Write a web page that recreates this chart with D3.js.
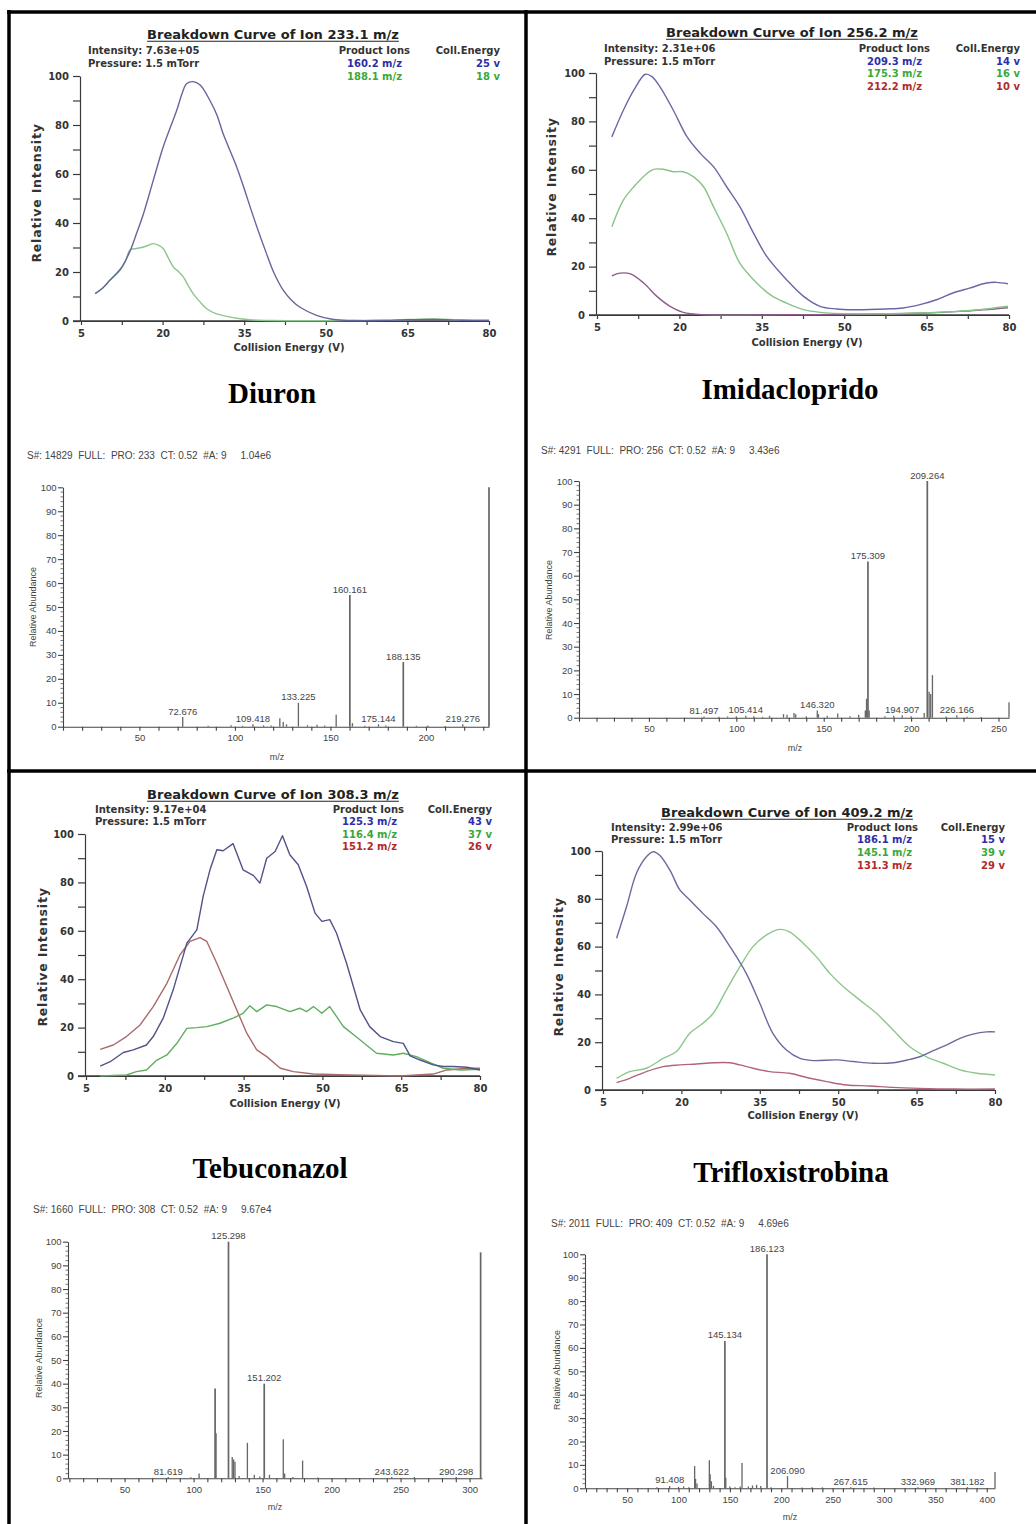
<!DOCTYPE html>
<html><head><meta charset="utf-8">
<script src="https://cdn.jsdelivr.net/npm/d3@7"></script>
<style>body{margin:0;background:#fff}svg{display:block}</style>
</head><body><svg id="c" width="1036" height="1524"></svg>
<script>
// ---------------- DATA ----------------
const compounds = ["Diuron", "Imidacloprido", "Tebuconazol", "Trifloxistrobina"];
const precursorIons = ["233.1", "256.2", "308.3", "409.2"];
const intensities = ["7.63e+05", "2.31e+06", "9.17e+04", "2.99e+06"];
const pressureText = "1.5 mTorr";
const productIons = [["160.2", "188.1"], ["209.3", "175.3", "212.2"], ["125.3", "116.4", "151.2"], ["186.1", "145.1", "131.3"]];
const collEnergies = [[25, 18], [14, 16, 10], [43, 37, 26], [15, 39, 29]];
const energyTickLabels = [5, 20, 35, 50, 65, 80];
const intensityTickLabels = [0, 20, 40, 60, 80, 100];

// breakdown curves [collision energy V, relative intensity %]
const diuron_160 = [[7.6,11.2],[9,13.5],[10.3,16.6],[12.5,22],[14,28.5],[15.2,35.7],[16.5,43.9],[18.3,57.5],[20.1,71],[21.5,79.5],[22.6,86],[23.6,93],[24.4,96.8],[25.6,97.7],[26.9,96.3],[28.7,90],[30,84],[31.1,76.6],[33.6,63],[35,54],[36.7,42.5],[39.1,27.5],[40.5,19.5],[42.2,12.5],[43.7,8.5],[45.2,5.7],[48.3,2.3],[51.4,0.6],[55,0.2],[60,0.2],[65,0.5],[70,0.6],[75,0.3],[80,0.2]];
const diuron_188 = [[7.6,11.2],[9,13.5],[10.3,16.6],[12.2,20.7],[13.2,24.5],[14,29],[15.2,29.6],[16.5,30.2],[17.5,31],[18.3,31.6],[19.2,31],[20.1,29.6],[21,26],[22,22],[23,20],[23.8,18],[24.7,14.5],[25.6,11.2],[26.8,8],[28.1,5],[29.8,3],[31.8,1.9],[34,1],[36,0.5],[40,0.2],[50,0.1],[60,0.3],[65,0.6],[70,0.8],[75,0.4],[80,0.3]];

const imida_209 = [[7.7,73.6],[9.8,84.6],[11.7,92.9],[13.8,99.5],[15,98.5],[16.5,94.2],[18.9,84.6],[21.4,73.6],[23.8,66.8],[26.2,61.3],[28.6,53],[31,44.8],[33.5,33.8],[35.9,24.2],[39.5,14.6],[42.6,7.7],[45.6,3.6],[48.6,2.5],[51.6,2.2],[57.7,2.5],[60.7,2.9],[63.8,4.3],[66.8,6.3],[69.8,9.1],[72.8,11.1],[75.9,13.2],[77.7,13.5],[79.8,12.9]];
const imida_175 = [[7.7,36.5],[9.8,47.5],[11.7,53],[14.1,58.5],[15.3,60.2],[17.1,60.2],[18.9,59.2],[20.7,59.2],[22.6,57.1],[24.4,53],[26.2,44.8],[28.6,33.8],[31,21.4],[33.5,14.6],[36.5,8.4],[39.5,4.9],[42.6,2.2],[45.6,1.1],[51.6,0.5],[63.8,0.8],[69.8,1.4],[75.9,2.5],[79.8,3.6]];
const imida_212 = [[7.7,16.2],[9.2,17.3],[11.1,17],[13.5,13.2],[15.9,7.7],[18.3,3.6],[20.7,1.1],[24.4,0.1],[40,0.1],[55,0.3],[65,0.8],[72,1.6],[79.8,3]];

const tebu_125 = [[7.7,4.1],[9.6,5.9],[12.1,9.7],[14,10.8],[16.5,12.8],[17.8,16.3],[19.7,23.9],[21.6,35.6],[24.2,54.9],[26.1,60.4],[27.3,74.2],[28.6,85.2],[29.9,93.5],[31.1,93.1],[33,96],[34.9,85.2],[36.9,82.8],[38.1,79.7],[39.4,90],[41,92.8],[42.4,99.3],[43.8,91.4],[45.4,87.3],[47,78.3],[48.6,67.3],[49.9,63.9],[51.4,64.6],[52.7,59],[54.6,46.6],[57.2,27.3],[59,20.4],[61,16.3],[63.5,14.2],[65.4,13.5],[66.7,8.3],[68.6,6.6],[71.1,4.6],[73,3.9],[74.9,3.9],[77.5,3.6],[80,2.5]];
const tebu_116 = [[7.7,0],[12.7,0.4],[14.6,1.8],[16.5,2.5],[18.5,6.6],[20.4,8.7],[22.3,13.5],[24.2,19.7],[26.1,20],[28,20.4],[30.5,21.8],[33,23.9],[34.9,25.9],[36.2,29],[37.5,26.6],[39.4,29.4],[41.3,28.7],[43.8,26.6],[45.7,28],[47,26.6],[48.3,28.7],[49.9,25.9],[51.4,28.7],[54,20.4],[57.2,14.9],[60.3,9.4],[63.5,8.7],[65.4,9.4],[67.9,8],[70.5,5.5],[73,3.2],[76.2,2.5],[80,2.8]];
const tebu_151 = [[7.7,11],[10.2,12.8],[12.7,16.3],[15.3,21.1],[17.8,28.7],[20.4,38.3],[22.9,50.1],[24.8,55.6],[26.7,57.2],[28,55.6],[29.9,46.6],[31.8,37],[33.7,27.3],[35.6,17.7],[37.5,10.8],[39.4,8],[42,3.2],[44.5,1.8],[48.3,0.8],[55.3,0.4],[64.8,0],[71.1,0.8],[73.7,2.5],[77.5,3.2],[80,3.2]];

const triflo_186 = [[7.6,63.5],[9.5,76.7],[11.4,90.7],[13.3,97.6],[14.6,99.7],[15.8,98.3],[17.8,92],[19.7,83.7],[21.6,79.5],[24.1,73.9],[26.7,68.3],[29.3,60],[32.4,48.8],[35,36.3],[37.5,23.7],[40.1,16.7],[42.7,13.2],[45.2,12.3],[49.7,12.6],[52.9,11.9],[56.7,11.2],[60.5,11.4],[63.7,12.8],[65.6,13.9],[68.2,16.5],[70.7,18.8],[73.3,21.6],[75.8,23.4],[78.4,24.3],[80,24.3]];
const triflo_145 = [[7.6,4.9],[10.1,7.7],[13.3,9.1],[16.5,13.2],[19,16],[21.6,23.7],[24.1,27.9],[26.1,32.1],[28.6,41.8],[31.2,51.6],[33.7,60],[36.3,64.9],[38.8,67.2],[40.7,66.2],[43.3,61.4],[45.8,55.8],[48.4,48.8],[51,43.2],[54.1,37.7],[57.3,32.1],[60.5,25.1],[63.7,18.1],[66.9,13.9],[70.1,11.2],[73.3,8.4],[76.5,7],[80,6.3]];
const triflo_131 = [[7.6,3.1],[10.1,4.9],[13.3,7.7],[16.5,9.8],[19.7,10.5],[22.9,10.9],[26.1,11.4],[29.3,11.4],[31.2,10.5],[33.7,9.1],[36.9,7.7],[40.7,7],[44.6,4.9],[47.8,3.5],[51.6,2.1],[56,1.7],[60.5,1.1],[65.6,0.7],[72,0.4],[80,0.4]];

// MS/MS spectra: [m/z, relative abundance %]
const scanHeaders = [
  "S#: 14829  FULL:  PRO: 233  CT: 0.52  #A: 9     1.04e6",
  "S#: 4291  FULL:  PRO: 256  CT: 0.52  #A: 9     3.43e6",
  "S#: 1660  FULL:  PRO: 308  CT: 0.52  #A: 9     9.67e4",
  "S#: 2011  FULL:  PRO: 409  CT: 0.52  #A: 9     4.69e6"
];
const diuronPeaks = [[72.676,4],[86,0.4],[98,0.6],[104,0.4],[109.418,1],[115,0.6],[119,0.5],[123.5,3.5],[125.3,2],[127,1],[133.225,10],[138,0.6],[143,0.8],[147,0.5],[153.0,5],[160.161,55],[161.5,1.5],[168,0.4],[175.144,1],[179,0.5],[188.135,27],[195,0.4],[201,0.5],[210,0.3],[219.276,1],[233,100]];
const diuronLabeled = [72.676,109.418,133.225,160.161,175.144,188.135,219.276];
const imidaPeaks = [[81.497,0.5],[90,0.4],[95,0.5],[100,0.6],[105.414,0.8],[110,0.6],[115,0.4],[119,0.8],[127,1.5],[129,1.2],[133,2],[134,1.5],[140,0.6],[146.320,3],[147,1.5],[152,0.8],[158,1.8],[165,0.6],[170,1.2],[173.8,3],[174.5,8],[175.309,66],[176,3],[185,0.6],[190,0.8],[194.907,1],[200,0.6],[207.5,2],[209.264,100],[210.3,11],[211.2,10],[212.2,18],[220,0.5],[226.166,1],[232,0.4],[240,0.3],[256,6.5]];
const imidaLabeled = [81.497,105.414,146.320,175.309,194.907,209.264,226.166];
const tebuPeaks = [[81.619,0.5],[98,0.4],[104,2],[115.6,38],[116.3,19],[125.298,100],[128,9],[129,8],[130,7],[133,1],[139,15],[144,1.5],[148,0.8],[151.202,40],[155,1.5],[165,16.5],[166,2],[172,0.5],[179,7.5],[190,0.3],[243.622,0.5],[260,0.6],[290.298,0.5],[308,95.5]];
const tebuLabeled = [81.619,125.298,151.202,243.622,290.298];
const trifloPeaks = [[79,0.5],[91.408,1],[100,0.6],[105,0.8],[110,0.5],[115.7,9.5],[116.6,4],[118,2],[130,12],[130.8,6],[132,3],[134,1],[145.134,63],[146,4.5],[150,0.8],[155,0.5],[160,0.8],[161.8,10.8],[168,0.8],[172,1.2],[176,1.5],[180,1],[186.123,100],[190,0.5],[206.090,5.2],[220,0.3],[230,0.5],[240,0.4],[267.615,0.5],[290,0.3],[332.969,0.5],[381.182,0.5],[408,7]];
const trifloLabeled = [91.408,145.134,186.123,206.090,267.615,332.969,381.182];

// ---------------- STYLE / LAYOUT ----------------
const lineColors = [["#66669e","#8cc68c"],["#6868a6","#86c486","#8c5c8c"],["#52528a","#5fae5f","#a86a6a"],["#6a6a9e","#8cc68c","#b2647c"]];
const legendColors = ["#2e2ea8","#3aa83a","#b02a2a"];
const curves = [[diuron_160, diuron_188],[imida_209, imida_175, imida_212],[tebu_125, tebu_116, tebu_151],[triflo_186, triflo_145, triflo_131]];
const smooth = [true, true, false, true];
const spectra = [[diuronPeaks, diuronLabeled],[imidaPeaks, imidaLabeled],[tebuPeaks, tebuLabeled],[trifloPeaks, trifloLabeled]];

const BL = [
  {x0:81, x1:489, yTop:76, yBot:321, tx:273, ty:39, ix:88, iy:53.5, pe:410, ve:402, ce:500, ry:53.5, rs:13, yl:[37,193], xl:[289,351], name:[272,403]},
  {x0:597, x1:1009, yTop:73, yBot:315, tx:792, ty:37, ix:604, iy:52, pe:930, ve:922, ce:1020, ry:52, rs:12.5, yl:[552,187], xl:[807,345.5], name:[790,399]},
  {x0:86, x1:480, yTop:834, yBot:1076, tx:273, ty:799, ix:95, iy:812.5, pe:404, ve:397, ce:492, ry:812.5, rs:12.5, yl:[43,957], xl:[285,1107], name:[270,1178]},
  {x0:603, x1:995, yTop:851, yBot:1090, tx:787, ty:817, ix:611, iy:830.5, pe:918, ve:912, ce:1005, ry:830.5, rs:12.8, yl:[559,967], xl:[803,1119], name:[791,1182]}
];
const SL = [
  {x0:63, x1:489, dom:[10,233], yTop:487.3, yBot:726.7, hx:27, hy:459, yl:[33,607], xl:[277,760]},
  {x0:579, x1:1009, dom:[10,256], yTop:481, yBot:717.7, hx:541, hy:454, yl:[549,600], xl:[795,751]},
  {x0:68, x1:482, dom:[9,309], yTop:1241.7, yBot:1478.3, hx:33, hy:1213, yl:[39,1358], xl:[275,1510]},
  {x0:585, x1:995, dom:[9,408], yTop:1254.3, yBot:1488.3, hx:551, hy:1227, yl:[557,1370], xl:[790,1520]}
];

const svg = d3.select("#c");
svg.append("rect").attr("width",1036).attr("height",1524).attr("fill","#fff");

const BF = "'DejaVu Sans', Verdana, sans-serif";
const SF = "'Liberation Sans', Arial, sans-serif";
const AX = "#3a3a3a";

function breakdown(i) {
  const L = BL[i];
  const g = svg.append("g");
  const x = d3.scaleLinear().domain([5, 80]).range([L.x0, L.x1]);
  const y = d3.scaleLinear().domain([0, 100]).range([L.yBot, L.yTop]);

  const ya = d3.axisLeft(y).tickValues(d3.range(0, 101, 10)).tickSize(7).tickSizeOuter(0).tickPadding(4)
    .tickFormat(d => intensityTickLabels.includes(d) ? d : "");
  const gy = g.append("g").attr("transform", `translate(${L.x0 - 1},0)`).call(ya);
  const xa = d3.axisBottom(x).tickValues(d3.range(5, 80.01, 7.5)).tickSize(4).tickSizeOuter(0).tickPadding(5)
    .tickFormat(d => energyTickLabels.includes(d) ? d : "");
  const gx = g.append("g").attr("transform", `translate(0,${L.yBot})`).call(xa);
  [gy, gx].forEach(a => {
    a.selectAll("path,line").attr("stroke", AX).attr("stroke-width", 1.2);
    a.selectAll("text").attr("font-family", BF).attr("font-weight", "bold").attr("font-size", 10).attr("fill", "#333");
  });
  g.append("line").attr("x1", L.x0 - 8).attr("x2", L.x1).attr("y1", L.yBot).attr("y2", L.yBot)
    .attr("stroke", AX).attr("stroke-width", 1.4);

  const line = d3.line().x(d => x(d[0])).y(d => y(d[1]))
    .curve(smooth[i] ? d3.curveCatmullRom.alpha(0.5) : d3.curveLinear);
  curves[i].slice().reverse().forEach((s, k) => {
    const idx = curves[i].length - 1 - k;
    g.append("path").attr("d", line(s)).attr("fill", "none")
      .attr("stroke", lineColors[i][idx]).attr("stroke-width", 1.4).attr("stroke-linejoin", "round");
  });

  const t = g.append("text").attr("x", L.tx).attr("y", L.ty).attr("text-anchor", "middle")
    .attr("font-family", BF).attr("font-weight", "bold").attr("font-size", 13).attr("fill", "#222")
    .text(`Breakdown Curve of Ion ${precursorIons[i]} m/z`);
  const bb = t.node().getBBox();
  g.append("line").attr("x1", bb.x).attr("x2", bb.x + bb.width).attr("y1", L.ty + 2.2).attr("y2", L.ty + 2.2)
    .attr("stroke", "#222").attr("stroke-width", 1.1);

  const info = (txt, xx, yy, anchor, col) => g.append("text").attr("x", xx).attr("y", yy).attr("text-anchor", anchor)
    .attr("font-family", BF).attr("font-weight", "bold").attr("font-size", 10).attr("fill", col).text(txt);
  info(`Intensity: ${intensities[i]}`, L.ix, L.iy, "start", "#333");
  info(`Pressure: ${pressureText}`, L.ix, L.iy + L.rs, "start", "#333");
  info("Product Ions", L.pe, L.ry, "end", "#333");
  info("Coll.Energy", L.ce, L.ry, "end", "#333");
  productIons[i].forEach((p, k) => {
    info(`${p} m/z`, L.ve, L.ry + L.rs * (k + 1), "end", legendColors[k]);
    info(`${collEnergies[i][k]} v`, L.ce, L.ry + L.rs * (k + 1), "end", legendColors[k]);
  });

  g.append("text").attr("transform", `translate(${L.yl[0]},${L.yl[1]}) rotate(-90)`).attr("text-anchor", "middle")
    .attr("dy", "0.35em").attr("font-family", BF).attr("font-weight", "bold").attr("font-size", 12.5)
    .attr("letter-spacing", 0.8).attr("fill", "#333").text("Relative Intensity");
  g.append("text").attr("x", L.xl[0]).attr("y", L.xl[1]).attr("text-anchor", "middle")
    .attr("font-family", BF).attr("font-weight", "bold").attr("font-size", 10).attr("fill", "#333")
    .text("Collision Energy (V)");
  g.append("text").attr("x", L.name[0]).attr("y", L.name[1]).attr("text-anchor", "middle")
    .attr("font-family", "'Liberation Serif', 'Times New Roman', serif").attr("font-weight", "bold")
    .attr("font-size", 29).attr("fill", "#000").text(compounds[i]);
}

function spectrum(i) {
  const L = SL[i];
  const [peaks, labeled] = spectra[i];
  const g = svg.append("g");
  const x = d3.scaleLinear().domain(L.dom).range([L.x0, L.x1]);
  const y = d3.scaleLinear().domain([0, 100]).range([L.yBot, L.yTop]);

  const ya = d3.axisLeft(y).tickValues(d3.range(0, 101, 10)).tickSize(5).tickSizeOuter(0).tickPadding(1.5);
  const gy = g.append("g").attr("transform", `translate(${L.x0},0)`).call(ya);
  g.append("g").selectAll("line").data(d3.range(0, 101, 2).filter(v => v % 10 !== 0)).join("line")
    .attr("x1", L.x0 - 2.5).attr("x2", L.x0).attr("y1", d => y(d)).attr("y2", d => y(d))
    .attr("stroke", "#555").attr("stroke-width", 0.8);
  const tv = d3.range(Math.ceil(L.dom[0] / 10) * 10, L.dom[1] + 0.01, 10);
  const xa = d3.axisBottom(x).tickValues(tv).tickSize(4).tickSizeOuter(0).tickPadding(4)
    .tickFormat(d => d % 50 === 0 ? d : "");
  const gx = g.append("g").attr("transform", `translate(0,${L.yBot})`).call(xa);
  [gy, gx].forEach(a => {
    a.selectAll("path,line").attr("stroke", "#444").attr("stroke-width", 1.1);
    a.selectAll("text").attr("font-family", SF).attr("font-size", 9.5).attr("fill", "#444");
  });

  g.append("g").selectAll("line").data(peaks).join("line")
    .attr("x1", d => x(d[0])).attr("x2", d => x(d[0])).attr("y1", y(0)).attr("y2", d => y(d[1]))
    .attr("stroke", "#666").attr("stroke-width", d => d[1] > 20 ? 1.7 : 1.3);
  const hmap = new Map(peaks.map(d => [d[0], d[1]]));
  g.append("g").selectAll("text").data(labeled).join("text")
    .attr("x", d => x(d)).attr("y", d => y(hmap.get(d)) - 2.5).attr("text-anchor", "middle")
    .attr("font-family", SF).attr("font-size", 9.5).attr("fill", "#444").text(d => d3.format(".3f")(d));

  g.append("text").attr("x", L.hx).attr("y", L.hy).attr("font-family", SF).attr("font-size", 10)
    .attr("fill", "#444").attr("xml:space", "preserve").style("white-space", "pre").text(scanHeaders[i]);
  g.append("text").attr("transform", `translate(${L.yl[0]},${L.yl[1]}) rotate(-90)`).attr("text-anchor", "middle")
    .attr("dy", "0.35em").attr("font-family", SF).attr("font-size", 9).attr("fill", "#444").text("Relative Abundance");
  g.append("text").attr("x", L.xl[0]).attr("y", L.xl[1]).attr("text-anchor", "middle")
    .attr("font-family", SF).attr("font-size", 9).attr("fill", "#444").text("m/z");
}

for (let i = 0; i < 4; i++) { breakdown(i); spectrum(i); }

const fr = svg.append("g").attr("stroke", "#000").attr("stroke-width", 3.5);
fr.append("line").attr("x1", 9).attr("x2", 9).attr("y1", 10).attr("y2", 1524);
fr.append("line").attr("x1", 526).attr("x2", 526).attr("y1", 10).attr("y2", 1524);
fr.append("line").attr("x1", 7).attr("x2", 1036).attr("y1", 12).attr("y2", 12);
fr.append("line").attr("x1", 7).attr("x2", 1036).attr("y1", 771).attr("y2", 771);
</script>
</body></html>
